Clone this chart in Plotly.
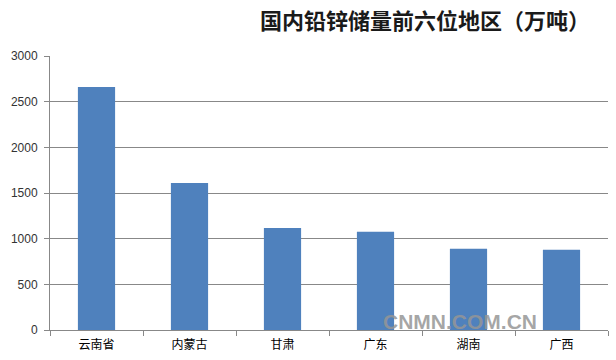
import plotly.graph_objects as go

categories = ["云南省", "内蒙古", "甘肃", "广东", "湖南", "广西"]
values = [2660, 1609, 1117, 1076, 890, 879]
y_ticks = [0, 500, 1000, 1500, 2000, 2500, 3000]
title_text = "国内铅锌储量前六位地区（万吨）"
watermark = "CNMN.COM.CN"

fig = go.Figure(go.Bar(x=categories, y=values, marker=dict(color="#4F81BD", line=dict(width=0))))

fig.update_layout(
    width=616, height=360,
    margin=dict(l=50, r=8, t=56, b=30),
    paper_bgcolor="white", plot_bgcolor="white",
    bargap=0.6,
    showlegend=False,
    font=dict(family="Noto Sans CJK SC", size=12, color="#000000"),
    annotations=[
        dict(text="<b>" + title_text + "</b>", xref="paper", yref="paper", x=1.0, y=1.0,
             xanchor="right", yanchor="bottom", yshift=19, xshift=-16, showarrow=False,
             font=dict(family="Noto Sans CJK SC", size=22, color="#1a1a1a")),
        dict(text="<b>" + watermark + "</b>", xref="paper", yref="paper", x=0.6, y=0.0,
             xanchor="left", yanchor="middle", yshift=9, xshift=-4, showarrow=False,
             font=dict(family="Liberation Sans", size=21, color="rgba(150,150,150,0.85)")),
    ],
)
fig.update_xaxes(
    showline=True, linecolor="#888888", linewidth=1,
    ticks="outside", tickson="boundaries", ticklen=5, tickcolor="#888888",
    tickfont=dict(family="Noto Sans CJK SC", size=12, color="#000000"),
    ticklabelstandoff=4,
    showgrid=False, fixedrange=True,
)
fig.update_yaxes(
    range=[0, 3000], tickvals=y_ticks, ticktext=[str(v) for v in y_ticks],
    showline=True, linecolor="#888888", linewidth=1,
    ticks="outside", ticklen=5, tickcolor="#888888",
    showgrid=True, gridcolor="#888888", gridwidth=1,
    tickfont=dict(family="Liberation Sans", size=12, color="#333333"),
    ticklabelstandoff=4,
    zeroline=False, fixedrange=True,
)

fig.write_html("out.html")
